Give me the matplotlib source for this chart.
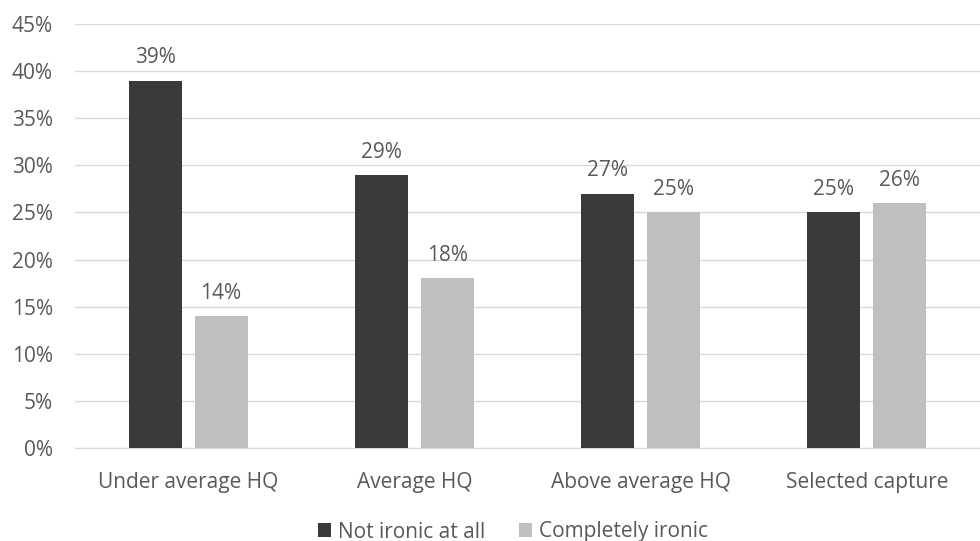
import numpy as np
import matplotlib.pyplot as plt

categories = ["Under average HQ", "Average HQ", "Above average HQ", "Selected capture"]
not_ironic = [39, 29, 27, 25]
completely_ironic = [14, 18, 25, 26]
series_names = ["Not ironic at all", "Completely ironic"]

plt.rcParams['font.family'] = ['Open Sans', 'DejaVu Sans']
TXT = '#595959'

fig = plt.figure(figsize=(9.8, 5.41), dpi=100)
ax = fig.add_axes([75/980, 93/541, 905/980, 424/541])

x = np.arange(len(categories))
w = 0.234
gap = 0.057
off = (w + gap) / 2
b1 = ax.bar(x - off, not_ironic, w, color='#3b3a38', label=series_names[0], zorder=3)
b2 = ax.bar(x + off, completely_ironic, w, color='#bfbfbf', label=series_names[1], zorder=3)

for bars, vals in ((b1, not_ironic), (b2, completely_ironic)):
    for r, v in zip(bars, vals):
        ax.text(r.get_x() + r.get_width()/2, v + 1.3, f"{v}%", ha='center', va='bottom',
                fontsize=15, color=TXT)

ax.set_xlim(-0.5, len(categories) - 0.5)
ax.set_ylim(0, 45)
ax.set_yticks(np.arange(0, 46, 5))
ax.set_yticklabels([f"{t}%" for t in range(0, 46, 5)])
ax.set_xticks(x)
ax.set_xticklabels(categories)
ax.grid(axis='y', color='#d9d9d9', linewidth=1, zorder=0)
for s in ('top', 'right', 'left'):
    ax.spines[s].set_visible(False)
ax.spines['bottom'].set_color('#d9d9d9')
ax.tick_params(axis='both', length=0, labelsize=15, colors=TXT)
ax.tick_params(axis='y', pad=16)
ax.tick_params(axis='x', pad=17)

# legend sits centred under the plot area, not the whole figure
fig.legend(loc='center', bbox_to_anchor=(513/980, 9/541), ncol=2, frameon=False,
           fontsize=15, labelcolor=TXT, handlelength=0.62, handleheight=0.62,
           handletextpad=0.35, columnspacing=1.6, borderpad=0)

fig.savefig("out.png", dpi=100)
